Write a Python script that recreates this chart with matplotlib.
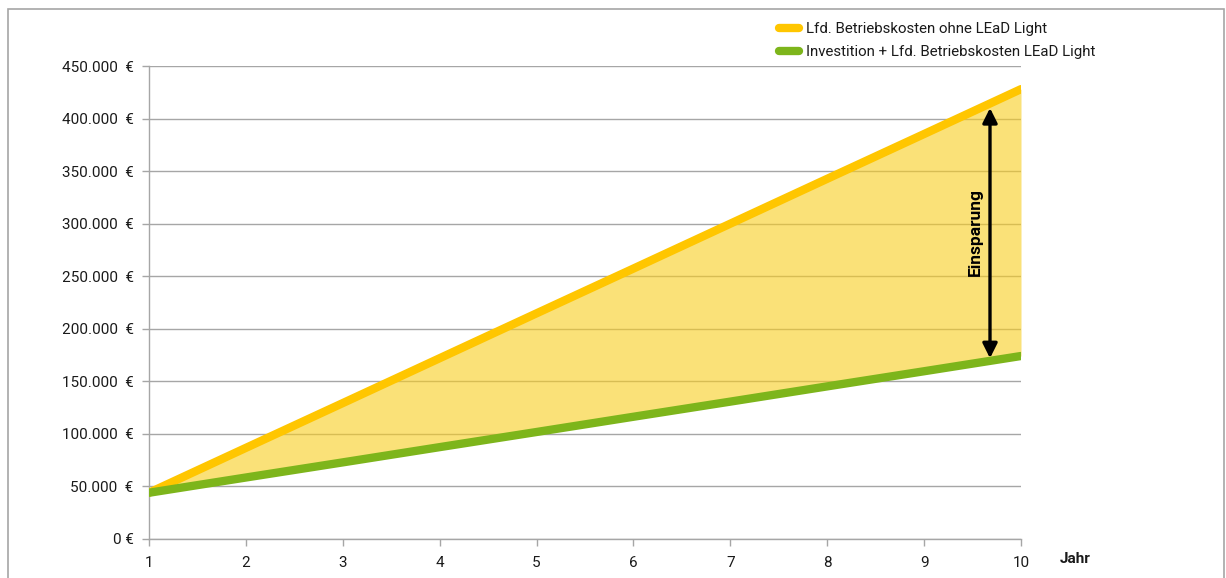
import matplotlib
matplotlib.use('Agg')
import matplotlib.pyplot as plt
from matplotlib.patches import Rectangle
from matplotlib.ticker import FuncFormatter

plt.rcParams['font.family'] = ['Roboto', 'DejaVu Sans']

# Data
years = [1, 2, 3, 4, 5, 6, 7, 8, 9, 10]
kosten_ohne = [44000, 86700, 129300, 172000, 214700, 257300, 300000, 342700, 385300, 428000]
kosten_mit = [44000, 58500, 72900, 87400, 101800, 116300, 130700, 145200, 159600, 174100]
label_ohne = 'Lfd. Betriebskosten ohne LEaD Light'
label_mit = 'Investition + Lfd. Betriebskosten LEaD Light'
yticks = [0, 50000, 100000, 150000, 200000, 250000, 300000, 350000, 400000, 450000]

W, H = 1226, 578
fig = plt.figure(figsize=(W / 100, H / 100), dpi=100)
ax = fig.add_axes([149 / W, 1 - 539 / H, (1021 - 149) / W, (539 - 66) / H])

# outer frame
fig.patches.append(Rectangle((8 / W, -0.05), (1224 - 8) / W, 1.05 - 9 / H,
                             transform=fig.transFigure, fill=False,
                             edgecolor='#a6a6a6', linewidth=1.2))

grey = '#a6a6a6'
ax.set_axisbelow(True)
ax.grid(axis='y', color=grey, linewidth=1.0, zorder=0)
ax.fill_between(years, kosten_mit, kosten_ohne, color='#F8CD1E', alpha=0.6,
                linewidth=0, zorder=1)
ax.plot(years, kosten_ohne, color='#FFC600', linewidth=6,
        solid_capstyle='round', label=label_ohne, zorder=3)
ax.plot(years, kosten_mit, color='#7DB51B', linewidth=6,
        solid_capstyle='round', label=label_mit, zorder=4)

ax.set_xlim(1, 10)
ax.set_ylim(0, 450000)
ax.set_xticks(years)
ax.set_yticks(yticks)
ax.yaxis.set_major_formatter(FuncFormatter(
    lambda v, p: '0 €' if v == 0 else f'{int(v):,}  €'.replace(',', '.')))
ax.tick_params(axis='both', colors=grey, labelcolor='#1a1a1a', labelsize=11,
               length=5, width=1.0)
ax.tick_params(axis='y', pad=6)
ax.tick_params(axis='x', pad=7)
for s in ['top', 'right']:
    ax.spines[s].set_visible(False)
for s in ['left', 'bottom']:
    ax.spines[s].set_color(grey)
    ax.spines[s].set_linewidth(1.0)

# savings arrow
ax.annotate('', xy=(9.68, 410000), xytext=(9.68, 172000),
            arrowprops=dict(arrowstyle='<|-|>', color='black', lw=2.4,
                            mutation_scale=22, shrinkA=0, shrinkB=0), zorder=5)
ax.text(9.53, 292000, 'Einsparung', rotation=90, ha='center', va='center',
        fontsize=12.5, fontweight='bold', color='black', zorder=5)

fig.text(1060 / W, 1 - 559 / H, 'Jahr', fontsize=11, fontweight='bold',
         ha='left', va='center', color='#1a1a1a')

leg = ax.legend(loc='upper left', bbox_to_anchor=(771 / W, 1 - 15 / H),
                bbox_transform=fig.transFigure, frameon=False, fontsize=10.8,
                handlelength=1.35, handletextpad=0.5, labelspacing=0.55,
                borderpad=0)
for t in leg.get_texts():
    t.set_color('#1a1a1a')

fig.savefig('out.png', dpi=100)
